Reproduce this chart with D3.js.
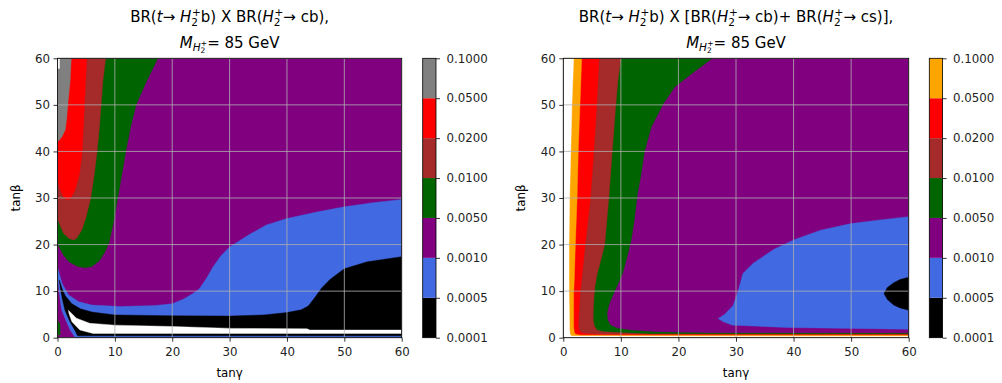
<!DOCTYPE html>
<meta charset="utf-8">
<head>
  <title>BR contours</title>
</head>
<style>
  body { margin: 0; background: #fff; }
  text { font-family: "DejaVu Sans", sans-serif; fill: #000; }
</style>
<body>
<svg id="fig" width="1002" height="383"></svg>

<script src="https://cdn.jsdelivr.net/npm/d3@7"></script>
<script>

// contour levels and colours (colorbar, bottom to top)
var levels = ["0.0001", "0.0005", "0.0010", "0.0050", "0.0100", "0.0200", "0.0500", "0.1000"];
var colorsLeft  = ["#000000", "#4169e1", "#800080", "#006400", "#a52a2a", "#ff0000", "#808080"];
var colorsRight = ["#000000", "#4169e1", "#800080", "#006400", "#a52a2a", "#ff0000", "#ffa500"];
var ticks = [0, 10, 20, 30, 40, 50, 60];

// ---- left panel: region outlines, [tanγ, tanβ] ----
var leftBlue = [[0,15.2],[0.8,11.7],[1.9,9.2],[3.7,7.7],[6,7.0],[11,6.7],[17,6.9],[20,7.3],[22,8.3],[24,9.8],[24.8,10.6],
  [26,12.8],[27.1,15.2],[28.5,17.6],[30,19.5],[33.5,22.2],[36.4,24.2],[40,25.6],[45.2,27],[50,28.1],[55,29],[60,29.7],
  [60,0],[3.1,0],[2.2,1.65],[1.5,3.6],[0.73,5.9],[0.35,9],[0.1,12],[0,13.5]];
var leftBlack = [[0.3,12.4],[0.8,10.5],[1.35,9.0],[2.5,7.3],[4,6.2],[6,5.5],[10,4.9],[20,4.7],[30,4.65],[36,4.9],[40,5.4],
  [42.5,6.0],[43.7,6.8],[44.8,8.5],[46,10.6],[47.5,12.5],[49,13.9],[50,14.8],[54,16.3],[60,17.4],
  [60,0.4],[3.5,0.4],[3.0,1.65],[2.1,3.6],[1.3,5.9],[0.8,8.5],[0.45,11]];
var leftWhite = [[1.9,5.9],[3.3,4.2],[5.6,3.1],[10,2.7],[20.1,2.4],[30.5,2.0],[43.5,1.9],[44,1.65],[60,1.65],
  [60,0.9],[6.2,0.9],[3.9,1.65],[2.5,3.4],[2.0,5.2]];
var leftGreenCorner = [[0,0.6],[0.45,0.6],[0.45,2.6],[0.25,3.4],[0,3.6]];
var leftGreen = [[0,60],[17.5,60],[15.5,55],[13.7,50],[12.7,45],[11.9,40],[11.2,35],[10.5,30],[9.8,25],[9,20.5],
  [8.3,18.5],[7.3,16.5],[6,15.3],[4.9,15],[3.5,15.3],[2,16.3],[1,17.8],[0,20.2]];
var leftBrown = [[0,60],[8.4,60],[7.9,55],[7.6,50],[7.3,45],[6.9,40],[6.4,35],[5.8,30],[5.0,26],[4.2,23],[3.3,21.3],
  [2.8,21],[2,21.3],[1,22.5],[0,25.5]];
var leftRed = [[0,60],[5.1,60],[4.7,50],[4.3,40],[3.8,35],[3.0,31.5],[2.2,29.8],[1.6,29.6],[1.0,30.3],[0.4,32],[0,34]];
var leftGray = [[0,60],[2.4,60],[2.2,55],[1.8,50],[1.6,47],[1.35,44.6],[0.8,43.2],[0.3,42.4],[0,42.2]];
var leftTop = [[0.1,60],[0.35,60],[0.35,57.8],[0.1,57.8]];

// ---- right panel ----
var rightGreen = [[0,60],[25.9,60],[22.4,56.8],[19.4,53.9],[17.4,50.3],[15.3,45.3],[14.1,40],[13.5,35],[12.9,31],[12.3,25],
  [11.8,21],[11,17],[10.3,13.8],[9.3,11],[8.5,8.8],[7.9,7],[7.6,5.2],[7.7,3.8],[8.2,2.7],[9.5,2],[11.8,1.6],[16,1.2],
  [25,1.0],[60,0.95],[60,0],[0,0]];
var rightBrown = [[0,60],[10,60],[9.5,55.3],[9.1,49.6],[8.5,40],[7.9,29.9],[7.2,20],[6.5,16.5],[5.9,13.8],[5.5,11],
  [5.3,8.1],[5.2,5.5],[5.2,3.8],[5.4,2.5],[5.9,1.6],[7,1.3],[9.4,1.1],[15,0.8],[60,0.72],[60,0],[0,0]];
var rightRed = [[0,60],[6.2,60],[5.8,50],[5.3,40],[4.7,30],[3.8,20],[3.3,14],[2.9,9.5],[2.7,5],[2.6,2.4],[2.8,1.4],
  [3.5,0.9],[6,0.7],[60,0.62],[60,0],[0,0]];
var rightOrange = [[0,60],[3.2,60],[2.9,50],[2.6,40],[2.4,30],[2.1,20],[1.9,12],[1.8,9.5],[1.8,2.4],[1.9,1.2],
  [2.1,0.75],[3,0.55],[60,0.52],[60,0],[0,0]];
var rightWhite = [[0,60],[1.8,60],[1.5,50],[1.3,40],[1.1,30],[1.0,20],[1.0,10],[1.1,1.6],[1.2,0.6],[1.5,0.35],
  [60,0.3],[60,0],[0,0]];
var rightBlue = [[26.9,4.1],[28,5],[29.5,6.9],[30.4,10.2],[31.2,13.8],[33,16],[36.6,19],[40,21],[44.7,23.1],[50,24.5],
  [55,25.3],[60,26],[60,1.8],[50,2.0],[38.8,2.2],[33,2.5],[29.4,2.7],[27.8,3.4]];
var rightBlack = [[55.7,9.5],[56.3,10.8],[57.4,11.8],[58.5,12.5],[60,13],[60,5.9],[58.5,6.4],[57.4,7],[56.3,8.2]];

var svg = d3.select("#fig");

function drawPanel(cfg) {
  var x = d3.scaleLinear().domain([0, 60]).range([cfg.left, cfg.right]);
  var y = d3.scaleLinear().domain([0, 60]).range([337.7, 58.3]);
  var g = svg.append("g");

  g.append("clipPath").attr("id", cfg.id + "clip")
    .append("rect").attr("x", x(0)).attr("y", y(60))
    .attr("width", x(60) - x(0)).attr("height", y(0) - y(60));

  var line = d3.line().x(function(d) { return x(d[0]); }).y(function(d) { return y(d[1]); });
  var body = g.append("g").attr("clip-path", "url(#" + cfg.id + "clip)");

  // base band fills the whole plot, then each region painted on top
  body.append("rect").attr("x", x(0)).attr("y", y(60))
    .attr("width", x(60) - x(0)).attr("height", y(0) - y(60))
    .style("fill", cfg.base);
  cfg.layers.forEach(function(l) {
    body.append("path").attr("d", line(l.pts) + "Z")
      .style("fill", l.color).style("stroke", l.color).style("stroke-width", 0.4);
  });

  // grid
  var grid = g.append("g").style("stroke", "#b0b0b0").style("stroke-width", 0.8);
  ticks.forEach(function(t) {
    grid.append("line").attr("x1", x(t)).attr("x2", x(t)).attr("y1", y(0)).attr("y2", y(60));
    grid.append("line").attr("x1", x(0)).attr("x2", x(60)).attr("y1", y(t)).attr("y2", y(t));
  });

  // axes
  var xa = g.append("g").attr("transform", "translate(0," + y(0) + ")")
    .call(d3.axisBottom(x).tickValues(ticks).tickSize(4).tickPadding(6));
  var ya = g.append("g").attr("transform", "translate(" + x(0) + ",0)")
    .call(d3.axisLeft(y).tickValues(ticks).tickSize(4).tickPadding(3.5));
  [xa, ya].forEach(function(a) {
    a.selectAll("text").style("font-size", "11.8px").style("font-family", "DejaVu Sans").style("fill", "#222");
    a.selectAll("line").style("stroke", "#000").style("stroke-width", 0.8);
    a.select(".domain").remove();
  });
  g.append("rect").attr("x", x(0)).attr("y", y(60))
    .attr("width", x(60) - x(0)).attr("height", y(0) - y(60))
    .style("fill", "none").style("stroke", "#000").style("stroke-width", 0.8);

  g.append("text").attr("x", (x(0) + x(60)) / 2).attr("y", 377)
    .attr("text-anchor", "middle").style("font-size", "11.8px").text("tanγ");
  g.append("text").attr("transform", "translate(" + (x(0) - 42) + "," + y(30) + ") rotate(-90)")
    .attr("text-anchor", "middle").attr("dy", "0.35em").style("font-size", "11.8px").text("tanβ");

  // title
  var cx = (x(0) + x(60)) / 2;
  var t1 = g.append("text").attr("x", cx).attr("y", 22).attr("text-anchor", "middle").style("font-size", "15px");
  cfg.title(t1);
  var t2 = g.append("text").attr("x", cx).attr("y", 47.5).attr("text-anchor", "middle").style("font-size", "15px");
  t2.append("tspan").style("font-style", "italic").text("M");
  t2.append("tspan").attr("dy", 3.5).style("font-size", "10.5px").style("font-style", "italic").text("H");
  t2.append("tspan").attr("dy", 2).style("font-size", "7.5px").text("2");
  t2.append("tspan").attr("dx", -4.5).attr("dy", -7.5).style("font-size", "7.5px").text("+");
  t2.append("tspan").attr("dy", 2).text("= 85 GeV");

  // colorbar
  var cb = d3.scalePoint().domain(levels).range([337.7, 58.3]);
  var cbg = g.append("g");
  for (var i = 0; i < levels.length - 1; i++) {
    cbg.append("rect").attr("x", cfg.cbx).attr("y", cb(levels[i + 1]))
      .attr("width", 13.3).attr("height", cb(levels[i]) - cb(levels[i + 1]))
      .style("fill", cfg.colors[i]);
  }
  cbg.append("rect").attr("x", cfg.cbx).attr("y", cb(levels[levels.length - 1]))
    .attr("width", 13.3).attr("height", cb(levels[0]) - cb(levels[levels.length - 1]))
    .style("fill", "none").style("stroke", "#000").style("stroke-width", 0.8);
  var ca = cbg.append("g").attr("transform", "translate(" + (cfg.cbx + 13.3) + ",0)")
    .call(d3.axisRight(cb).tickSize(4).tickPadding(6.5));
  ca.select(".domain").remove();
  ca.selectAll("text").style("font-size", "11.8px").style("font-family", "DejaVu Sans").style("fill", "#222");
  ca.selectAll("line").style("stroke", "#000").style("stroke-width", 0.8);
}

function H2(t, txt) {
  t.append("tspan").style("font-style", "italic").text("H");
  t.append("tspan").attr("dy", 3.5).style("font-size", "10.5px").text("2");
  t.append("tspan").attr("dx", -6).attr("dy", -10).style("font-size", "10.5px").text("+");
  t.append("tspan").attr("dy", 6.5).text(txt);
}

drawPanel({
  id: "L", left: 57.5, right: 401.7, cbx: 422.7, base: colorsLeft[2], colors: colorsLeft,
  layers: [
    {pts: leftBlue, color: colorsLeft[1]},
    {pts: leftBlack, color: colorsLeft[0]},
    {pts: leftWhite, color: "#ffffff"},
    {pts: leftGreenCorner, color: colorsLeft[3]},
    {pts: leftGreen, color: colorsLeft[3]},
    {pts: leftBrown, color: colorsLeft[4]},
    {pts: leftRed, color: colorsLeft[5]},
    {pts: leftGray, color: colorsLeft[6]},
    {pts: leftTop, color: "#ffffff"}
  ],
  title: function(t) {
    t.append("tspan").text("BR(");
    t.append("tspan").style("font-style", "italic").text("t");
    t.append("tspan").text("→ ");
    H2(t, "b) X BR(");
    H2(t, "→ cb),");
  }
});

drawPanel({
  id: "R", left: 563.3, right: 908.7, cbx: 929.3, base: colorsRight[2], colors: colorsRight,
  layers: [
    {pts: rightGreen, color: colorsRight[3]},
    {pts: rightBrown, color: colorsRight[4]},
    {pts: rightRed, color: colorsRight[5]},
    {pts: rightOrange, color: colorsRight[6]},
    {pts: rightWhite, color: "#ffffff"},
    {pts: rightBlue, color: colorsRight[1]},
    {pts: rightBlack, color: colorsRight[0]}
  ],
  title: function(t) {
    t.append("tspan").text("BR(");
    t.append("tspan").style("font-style", "italic").text("t");
    t.append("tspan").text("→ ");
    H2(t, "b) X [BR(");
    H2(t, "→ cb)+ BR(");
    H2(t, "→ cs)],");
  }
});

</script>
</body>
</html>
